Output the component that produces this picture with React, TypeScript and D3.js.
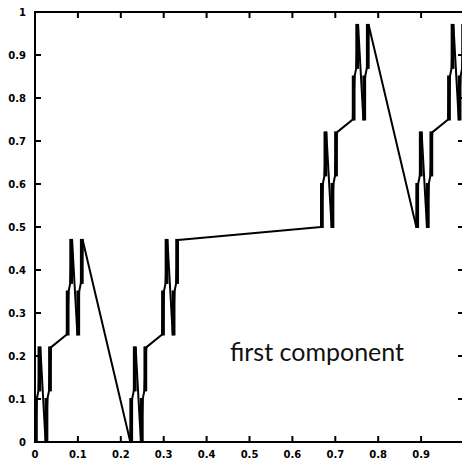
import React from 'react';
import * as d3 from 'd3';

const W = 462;
const H = 459;

// Axis ticks
const xTickValues = [0, 0.1, 0.2, 0.3, 0.4, 0.5, 0.6, 0.7, 0.8, 0.9, 1];
const xTickLabels = ['0', '0.1', '0.2', '0.3', '0.4', '0.5', '0.6', '0.7', '0.8', '0.9'];
const yTickValues = [0, 0.1, 0.2, 0.3, 0.4, 0.5, 0.6, 0.7, 0.8, 0.9, 1];
const yTickLabels = ['0', '0.1', '0.2', '0.3', '0.4', '0.5', '0.6', '0.7', '0.8', '0.9', '1'];

// Curve vertices: position in 1/243 steps of the x range, and value
const CURVE_STEPS = 243;
const curveStep = [
  0, 1, 2, 3, 6, 7, 8, 9,
  18, 19, 20, 21, 24, 25, 26, 27,
  54, 55, 56, 57, 60, 61, 62, 63,
  72, 73, 74, 75, 78, 79, 80, 81,
  162, 163, 164, 165, 168, 169, 170, 171,
  180, 181, 182, 183, 186, 187, 188, 189,
  216, 217, 218, 219, 222, 223, 224, 225,
  234, 235, 236, 237, 240, 241, 242, 243,
];
const curveValue = [
  0, 0.10, 0.12, 0.22, 0, 0.10, 0.12, 0.22,
  0.25, 0.35, 0.37, 0.47, 0.25, 0.35, 0.37, 0.47,
  0, 0.10, 0.12, 0.22, 0, 0.10, 0.12, 0.22,
  0.25, 0.35, 0.37, 0.47, 0.25, 0.35, 0.37, 0.47,
  0.50, 0.60, 0.62, 0.72, 0.50, 0.60, 0.62, 0.72,
  0.75, 0.85, 0.87, 0.97, 0.75, 0.85, 0.87, 0.97,
  0.50, 0.60, 0.62, 0.72, 0.50, 0.60, 0.62, 0.72,
  0.75, 0.85, 0.87, 0.97, 0.75, 0.85, 0.87, 0.97,
];

const annotation = 'first component';

const x = d3.scaleLinear().domain([0, 1]).range([35, 464]);
const y = d3.scaleLinear().domain([0, 1]).range([442, 12]);

const TICK = 6;
const tickFont = "'DejaVu Sans', sans-serif";

export default function App() {
  const pts: [number, number][] = curveStep.map((k, i) => [k / CURVE_STEPS, curveValue[i]]);
  const line = d3
    .line<[number, number]>()
    .x((d) => x(d[0]))
    .y((d) => y(d[1]));

  // dense oscillating stretches (too fine to resolve) drawn as solid bands
  const bands: { x0: number; x1: number; y0: number; y1: number }[] = [];
  for (let i = 0; i < pts.length - 1; i++) {
    const dk = curveStep[i + 1] - curveStep[i];
    const dv = Math.abs(curveValue[i + 1] - curveValue[i]);
    if (dk === 1 && dv > 0.05) {
      bands.push({
        x0: x(pts[i][0]),
        x1: x(pts[i + 1][0]),
        y0: y(Math.max(curveValue[i], curveValue[i + 1])),
        y1: y(Math.min(curveValue[i], curveValue[i + 1])),
      });
    }
  }

  const [x0, x1] = x.range();
  const [yb, yt] = y.range();

  return (
    <svg
      width={W}
      height={H}
      style={{ position: 'absolute', left: 0, top: 0, background: '#fff' }}
    >
      <rect x={0} y={0} width={W} height={H} fill="#fff" />
      {/* curve */}
      <path d={line(pts) || ''} fill="none" stroke="#000" strokeWidth={2} strokeLinejoin="round" />
      {bands.map((b, i) => (
        <rect
          key={i}
          x={b.x0}
          y={b.y0}
          width={b.x1 - b.x0}
          height={b.y1 - b.y0}
          fill="#000"
          stroke="#000"
          strokeWidth={2}
        />
      ))}
      {/* frame */}
      <rect x={x0} y={yt} width={x1 - x0} height={yb - yt} fill="none" stroke="#000" strokeWidth={2} />
      {/* ticks */}
      {xTickValues.map((v, i) => (
        <g key={'xt' + i}>
          <line x1={x(v)} x2={x(v)} y1={yb} y2={yb - TICK} stroke="#000" strokeWidth={2} />
          <line x1={x(v)} x2={x(v)} y1={yt} y2={yt + TICK} stroke="#000" strokeWidth={2} />
        </g>
      ))}
      {yTickValues.map((v, i) => (
        <g key={'yt' + i}>
          <line x1={x0} x2={x0 + TICK} y1={y(v)} y2={y(v)} stroke="#000" strokeWidth={2} />
          <line x1={x1} x2={x1 - TICK} y1={y(v)} y2={y(v)} stroke="#000" strokeWidth={2} />
        </g>
      ))}
      {/* tick labels */}
      {xTickLabels.map((t, i) => (
        <text
          key={'xl' + i}
          x={x(xTickValues[i])}
          y={457.5}
          textAnchor="middle"
          fontFamily={tickFont}
          fontWeight="bold"
          fontSize={10}
          fill="#000"
        >
          {t}
        </text>
      ))}
      {yTickLabels.map((t, i) => (
        <text
          key={'yl' + i}
          x={26}
          y={y(yTickValues[i])}
          dy="0.36em"
          textAnchor="end"
          fontFamily={tickFont}
          fontWeight="bold"
          fontSize={10}
          fill="#000"
        >
          {t}
        </text>
      ))}
      <text x={230} y={361} fontFamily="Lato, sans-serif" fontSize={25} fill="#111">
        {annotation}
      </text>
    </svg>
  );
}
